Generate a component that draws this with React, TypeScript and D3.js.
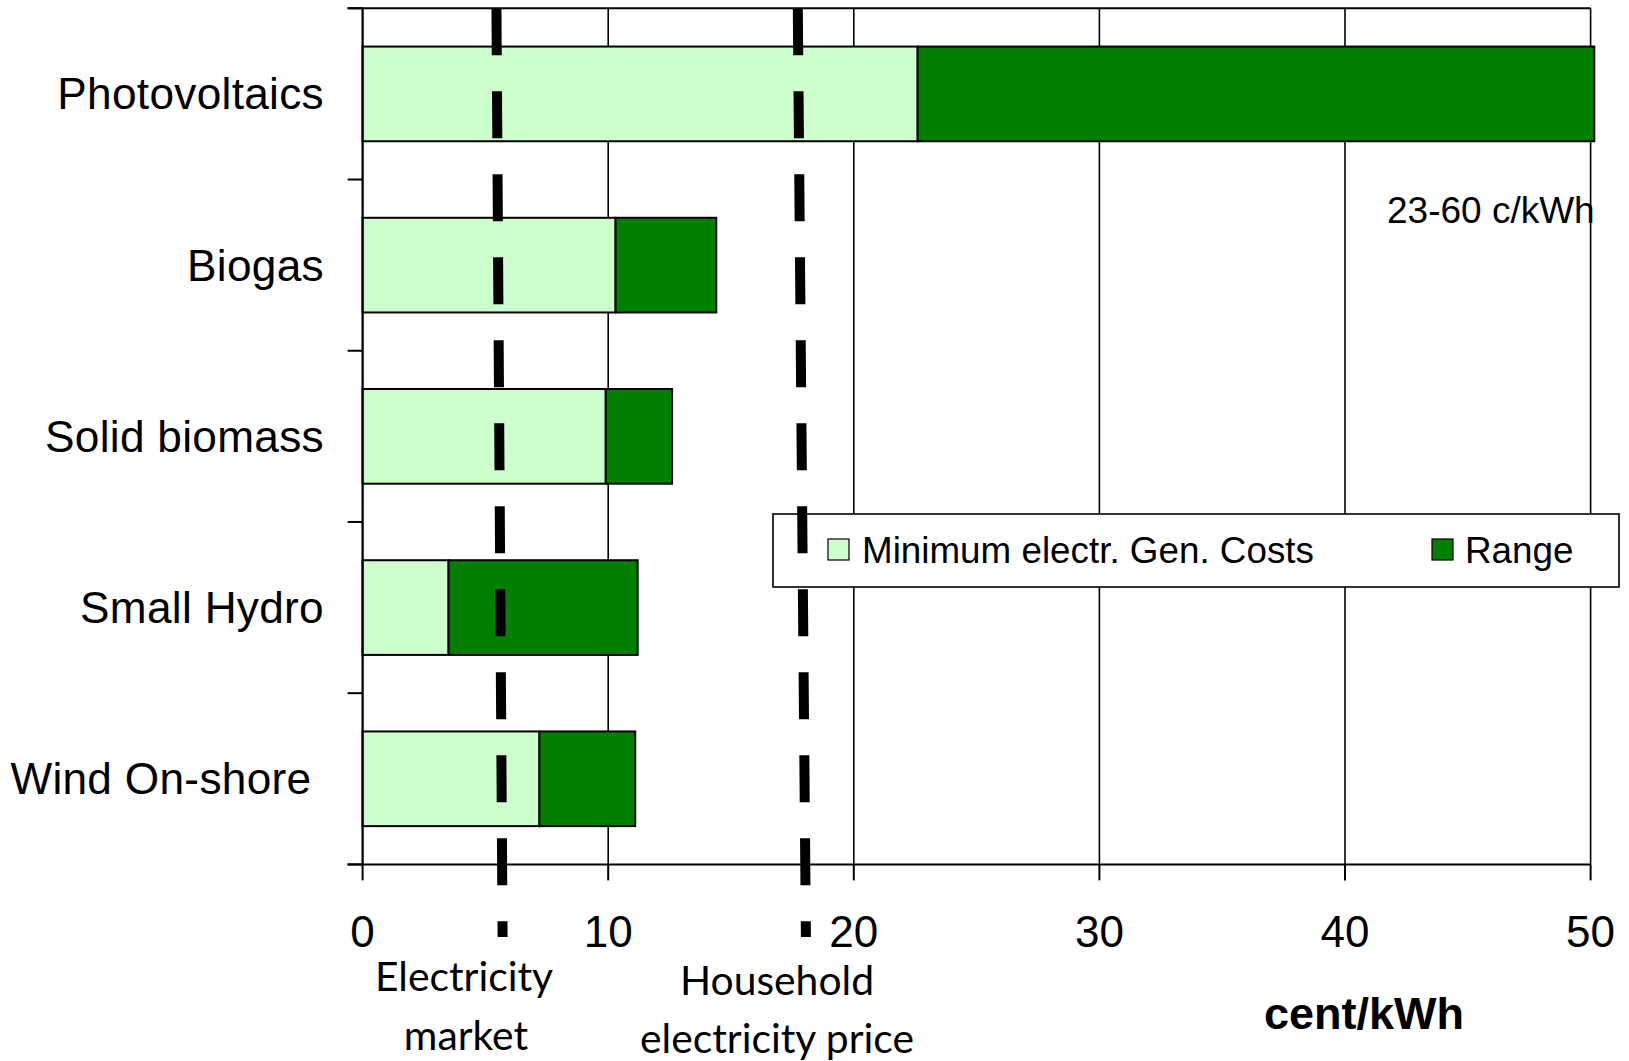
import React from "react";
import * as d3 from "d3";

const categories = ["Photovoltaics", "Biogas", "Solid biomass", "Small Hydro", "Wind On-shore"];
const minCost = [22.6, 10.3, 9.9, 3.5, 7.2];
const maxCost = [60, 14.4, 12.6, 11.2, 11.1];
const xTicks = [0, 10, 20, 30, 40, 50];
const marketLine = [5.45, 5.7];
const householdLine = [17.72, 18.05];
const seriesNames = ["Minimum electr. Gen. Costs", "Range"];
const seriesColors = ["#CCFFCC", "#008000"];

const W = 1629;
const H = 1061;
const left = 362.6;
const right = 1590.6;
const top = 8.3;
const bottom = 864.4;

export default function App() {
  const x = d3.scaleLinear().domain([0, 50]).range([left, right]);
  const y = d3
    .scaleBand<string>()
    .domain(categories)
    .range([top, bottom])
    .paddingInner(0.447)
    .paddingOuter(0.2235);
  const step = y.step();
  const bounds = d3.range(categories.length + 1).map((i) => top + i * step);
  const xMax = x.domain()[1];
  const lineBottom = 937;
  const sans = "'Liberation Sans', Arial, sans-serif";

  const dashLine = (v: number[], key: string) => (
    <line
      key={key}
      x1={x(v[0])}
      y1={top}
      x2={x(v[1])}
      y2={lineBottom}
      stroke="#000"
      strokeWidth={10}
      strokeDasharray="47 36"
    />
  );

  return (
    <svg
      width={W}
      height={H}
      style={{ position: "absolute", left: 0, top: 0, background: "#fff" }}
      fontFamily={sans}
    >
      <rect x={0} y={0} width={W} height={H} fill="#fff" />
      {/* gridlines */}
      {xTicks.map((t) => (
        <line key={"g" + t} x1={x(t)} x2={x(t)} y1={top} y2={bottom} stroke="#000" strokeWidth={1.6} />
      ))}
      {/* top border */}
      <line x1={left - 15} x2={right} y1={top} y2={top} stroke="#000" strokeWidth={2} />
      {/* bars */}
      {categories.map((c, i) => (
        <g key={c}>
          <rect
            x={x(0)}
            y={y(c)}
            width={x(minCost[i]) - x(0)}
            height={y.bandwidth()}
            fill={seriesColors[0]}
            stroke="#000"
            strokeWidth={2}
          />
          <rect
            x={x(minCost[i])}
            y={y(c)}
            width={x(Math.min(maxCost[i], xMax + 0.15)) - x(minCost[i])}
            height={y.bandwidth()}
            fill={seriesColors[1]}
            stroke="#000"
            strokeWidth={2}
          />
        </g>
      ))}
      {/* y axis */}
      <line x1={left} x2={left} y1={top} y2={bottom} stroke="#000" strokeWidth={2} />
      {bounds.map((b, i) => (
        <line key={"yt" + i} x1={left - 15} x2={left} y1={b} y2={b} stroke="#000" strokeWidth={2} />
      ))}
      {/* x axis */}
      <line x1={left - 15} x2={right} y1={bottom} y2={bottom} stroke="#000" strokeWidth={2} />
      {xTicks.map((t) => (
        <g key={"xt" + t}>
          <line x1={x(t)} x2={x(t)} y1={bottom} y2={bottom + 16} stroke="#000" strokeWidth={2} />
          <text x={x(t)} y={947} fontSize={44} textAnchor="middle" fill="#000">
            {t}
          </text>
        </g>
      ))}
      {/* category labels */}
      {categories.map((c) => (
        <text
          key={"l" + c}
          x={324}
          y={(y(c) as number) + y.bandwidth() / 2}
          dy="0.35em"
          fontSize={44.2}
          letterSpacing={0.3}
          textAnchor="end"
          fill="#000"
        >
          {c === "Wind On-shore" ? c + "\u00a0" : c}
        </text>
      ))}
      {/* annotation */}
      <text x={1387} y={223} fontSize={37} fill="#000">
        23-60 c/kWh
      </text>
      {/* legend */}
      <rect x={773} y={514} width={846} height={73} fill="#fff" stroke="#000" strokeWidth={1.6} />
      <rect x={828} y={539} width={21} height={21} fill={seriesColors[0]} stroke="#000" strokeWidth={1.2} />
      <text x={862} y={563} fontSize={36.8} fill="#000">
        {seriesNames[0]}
      </text>
      <rect x={1432} y={539} width={21} height={21} fill={seriesColors[1]} stroke="#000" strokeWidth={1.2} />
      <text x={1465} y={563} fontSize={36.8} fill="#000">
        {seriesNames[1]}
      </text>
      {/* dashed price lines */}
      {dashLine(marketLine, "market")}
      {dashLine(householdLine, "household")}
      {/* line labels */}
      <g fontFamily="Lato, 'Open Sans', sans-serif" fontSize={40.8} fill="#000" textAnchor="middle">
        <text x={464} y={991}>Electricity</text>
        <text x={466} y={1050}>market</text>
        <text x={777} y={995}>Household</text>
        <text x={777} y={1053}>electricity price</text>
      </g>
      {/* axis title */}
      <text x={1364} y={1029} fontSize={45} fontWeight="bold" textAnchor="middle" fill="#000">
        cent/kWh
      </text>
    </svg>
  );
}
